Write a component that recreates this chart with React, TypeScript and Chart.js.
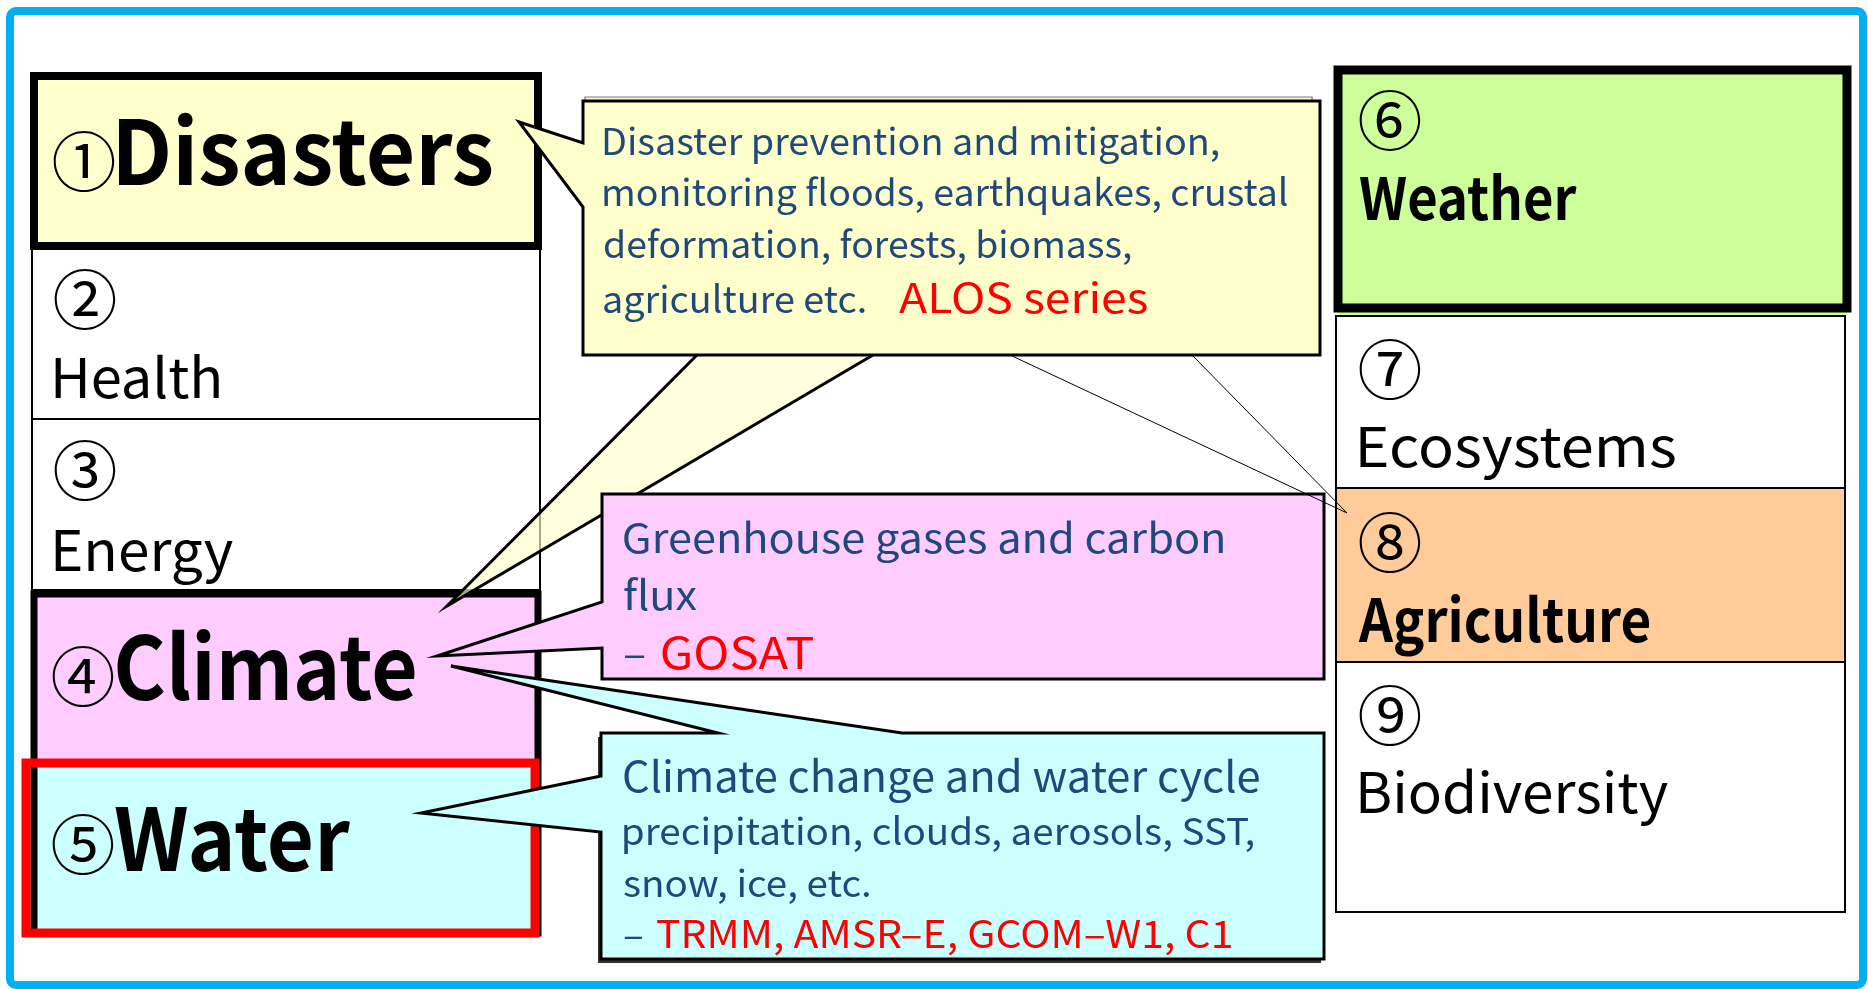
import React, { useEffect, useRef } from 'react';
import { Chart, registerables } from 'chart.js';

Chart.register(...registerables);

const W = 1868;
const H = 989;

// ---------- content ----------
const topicNumbers = ['①', '②', '③', '④', '⑤', '⑥', '⑦', '⑧', '⑨'];
const topicNames = ['Disasters', 'Health', 'Energy', 'Climate', 'Water', 'Weather', 'Ecosystems', 'Agriculture', 'Biodiversity'];
const topicBold = [true, false, false, true, true, true, false, true, false];

const disasterLines = [
  'Disaster prevention and mitigation,',
  'monitoring floods, earthquakes, crustal',
  'deformation, forests, biomass,',
  'agriculture etc.',
];
const disasterSatellites = ['ALOS series'];
const climateLines = ['Greenhouse gases and carbon', 'flux', '–'];
const climateSatellites = ['GOSAT'];
const waterLines = [
  'Climate change and water cycle',
  'precipitation, clouds, aerosols, SST,',
  'snow, ice, etc.',
  '–',
];
const waterSatellites = ['TRMM, AMSR–E, GCOM–W1, C1'];

// ---------- styles / layout ----------
const FONT = '"Noto Sans CJK JP", "Noto Sans", "DejaVu Sans", sans-serif';
const C = {
  yellow: '#FFFFCC',
  pink: '#FFCCFF',
  cyan: '#CCFFFF',
  green: '#CCFF99',
  orange: '#FFCC99',
  white: '#FFFFFF',
  note: '#1F497D',
  red: '#FF0000',
  blue: '#00B0F0',
  black: '#000000',
};

const topicCells = [
  [34, 76, 538, 246],
  [32, 248, 540, 419],
  [32, 419, 540, 590],
  [34, 594, 538, 762],
  [34, 762, 538, 933],
  [1338, 70, 1847, 316],
  [1336, 316, 1845, 488],
  [1336, 488, 1845, 662],
  [1336, 662, 1845, 912],
];
const topicFill = [C.yellow, C.white, C.white, C.pink, C.cyan, C.green, C.white, C.orange, C.white];
const numberPos = [
  [84, 161], [85, 299], [85, 470], [83, 676], [83, 844],
  [1390, 120], [1390, 369], [1390, 542], [1390, 715],
];
const NUM_D = 61;
// x, baseline, ink width, cap height
const labelPos = [
  [119, 185, 373, 66],
  [55, 398, 164, 40],
  [55, 571, 178, 41],
  [117, 700, 298, 65],
  [115, 871, 235, 64],
  [1360, 220, 217, 43],
  [1360, 467, 315, 40],
  [1358, 642, 292, 44],
  [1360, 813, 308, 41],
];

type Line = { t: string; x: number; b: number; cap: number; w: number | null; color: string };
const noteLines: Line[] = [
  { t: disasterLines[0], x: 604, b: 155, cap: 27, w: 615, color: C.note },
  { t: disasterLines[1], x: 604, b: 206, cap: 27, w: 683, color: C.note },
  { t: disasterLines[2], x: 604, b: 258, cap: 27, w: 527, color: C.note },
  { t: disasterLines[3], x: 604, b: 313, cap: 27, w: 261, color: C.note },
  { t: disasterSatellites[0], x: 899, b: 313, cap: 30, w: 248, color: C.red },
  { t: climateLines[0], x: 624, b: 553, cap: 29, w: 599, color: C.note },
  { t: climateLines[1], x: 624, b: 610, cap: 29, w: null, color: C.note },
  { t: climateLines[2], x: 624, b: 668, cap: 29, w: null, color: C.note },
  { t: climateSatellites[0], x: 662, b: 669, cap: 32, w: 151, color: C.red },
  { t: waterLines[0], x: 624, b: 792, cap: 31, w: 635, color: C.note },
  { t: waterLines[1], x: 624, b: 845, cap: 27, w: 630, color: C.note },
  { t: waterLines[2], x: 624, b: 897, cap: 27, w: null, color: C.note },
  { t: waterLines[3], x: 624, b: 948, cap: 27, w: null, color: C.note },
  { t: waterSatellites[0], x: 657, b: 948, cap: 28, w: 574, color: C.red },
];

const yellowBox = [583, 101, 1320, 355];
const yellowBack = [585, 97, 1312, 350];
const yellowTip = { y0: 143, y1: 207, tip: [519, 122] };
const yellowWedge = [[697, 355], [873, 355], [447, 606]];
const thinWedge = [[1010, 355], [1192, 355], [1347, 513]];
const pinkBox = [602, 494, 1324, 679];
const pinkTip = { y0: 602, y1: 648, tip: [437, 656] };
const cyanBox = [601, 733, 1324, 959];
const cyanTopTip = { x0: 718, x1: 902, tip: [451, 666] };
const cyanLeftTip = { y0: 776, y1: 832, tip: [421, 813] };
const waterRed = [26, 763, 535, 933];
const frame = [10, 11, 1863, 985];

const diagramPlugin = {
  id: 'diagram',
  afterDraw(chart: any) {
    const ctx: CanvasRenderingContext2D = chart.ctx;
    const xs = chart.scales.x;
    const ys = chart.scales.y;
    const X = (v: number) => xs.getPixelForValue(v);
    const Y = (v: number) => ys.getPixelForValue(v);

    const rect = (r: number[], fill: string | null, stroke: string | null, lw: number) => {
      ctx.beginPath();
      ctx.rect(X(r[0]), Y(r[1]), X(r[2]) - X(r[0]), Y(r[3]) - Y(r[1]));
      if (fill) { ctx.fillStyle = fill; ctx.fill(); }
      if (stroke) { ctx.strokeStyle = stroke; ctx.lineWidth = lw; ctx.lineJoin = 'miter'; ctx.stroke(); }
    };
    const poly = (pts: number[][], fill: string | null, stroke: string | null, lw: number, close = true) => {
      ctx.beginPath();
      pts.forEach((p, i) => (i ? ctx.lineTo(X(p[0]), Y(p[1])) : ctx.moveTo(X(p[0]), Y(p[1]))));
      if (close) ctx.closePath();
      if (fill) { ctx.fillStyle = fill; ctx.fill(); }
      if (stroke) { ctx.strokeStyle = stroke; ctx.lineWidth = lw; ctx.lineJoin = 'miter'; ctx.miterLimit = 20; ctx.stroke(); }
    };

    let lastScale = 1;
    const fitText = (text: string, x: number, b: number, cap: number, w: number | null, bold: boolean, color: string) => {
      const wt = bold ? 'bold ' : '';
      ctx.font = `${wt}100px ${FONT}`;
      const capRatio = ctx.measureText('H').actualBoundingBoxAscent / 100;
      const size = cap / capRatio;
      ctx.font = `${wt}${size}px ${FONT}`;
      const m = ctx.measureText(text);
      const ink = m.actualBoundingBoxLeft + m.actualBoundingBoxRight;
      const s = w ? w / ink : lastScale;
      lastScale = s;
      ctx.save();
      ctx.translate(X(x), Y(b));
      ctx.scale(s, 1);
      ctx.fillStyle = color;
      ctx.textAlign = 'left';
      ctx.textBaseline = 'alphabetic';
      ctx.fillText(text, m.actualBoundingBoxLeft, 0);
      ctx.restore();
    };
    const circled = (text: string, cx: number, cy: number, d: number) => {
      ctx.font = `100px ${FONT}`;
      const m0 = ctx.measureText(text);
      const h0 = m0.actualBoundingBoxAscent + m0.actualBoundingBoxDescent;
      const size = (d / h0) * 100;
      ctx.font = `${size}px ${FONT}`;
      const m = ctx.measureText(text);
      const iw = m.actualBoundingBoxLeft + m.actualBoundingBoxRight;
      const px = X(cx) - iw / 2 + m.actualBoundingBoxLeft;
      const py = Y(cy) + (m.actualBoundingBoxAscent - m.actualBoundingBoxDescent) / 2;
      ctx.fillStyle = C.black;
      ctx.textAlign = 'left';
      ctx.textBaseline = 'alphabetic';
      ctx.fillText(text, px, py);
    };

    ctx.save();
    // background
    ctx.fillStyle = '#FFFFFF';
    ctx.fillRect(0, 0, chart.width, chart.height);

    // left column
    rect(topicCells[1], topicFill[1], C.black, 2);
    rect(topicCells[2], topicFill[2], C.black, 2);
    rect(topicCells[0], topicFill[0], C.black, 8);
    rect(topicCells[3], topicFill[3], null, 0);
    rect(topicCells[4], topicFill[4], null, 0);
    rect([topicCells[3][0], topicCells[3][1], topicCells[4][2], topicCells[4][3]], null, C.black, 7);
    rect(waterRed, null, C.red, 9);

    // right column
    rect(topicCells[5], topicFill[5], null, 0);
    rect(topicCells[6], topicFill[6], C.black, 2);
    rect(topicCells[7], topicFill[7], C.black, 2);
    rect(topicCells[8], topicFill[8], C.black, 2);
    rect([topicCells[5][0], topicCells[5][1], topicCells[5][2], 308], null, C.black, 9);

    // yellow wedge to Climate (semi-transparent)
    poly(yellowWedge, 'rgba(255,255,204,0.65)', null, 0);
    poly([yellowWedge[0], yellowWedge[2], yellowWedge[1]], null, C.black, 3, false);

    // yellow callout
    rect(yellowBack, C.yellow, '#777777', 1.2);
    {
      const [l, t, r, b] = yellowBox;
      poly([[l, t], [r, t], [r, b], [l, b], [l, yellowTip.y1], yellowTip.tip, [l, yellowTip.y0]], C.yellow, C.black, 3);
    }

    // pink callout
    {
      const [l, t, r, b] = pinkBox;
      poly([[l, t], [r, t], [r, b], [l, b], [l, pinkTip.y1], pinkTip.tip, [l, pinkTip.y0]], C.pink, C.black, 3);
    }

    // cyan callout with shadow
    {
      const [l, t, r, b] = cyanBox;
      rect([l - 3, t + 4, r - 3, b + 4], '#333333', null, 0);
      poly([
        [l, t], [cyanTopTip.x0, t], cyanTopTip.tip, [cyanTopTip.x1, t], [r, t], [r, b], [l, b],
        [l, cyanLeftTip.y1], cyanLeftTip.tip, [l, cyanLeftTip.y0],
      ], C.cyan, C.black, 3);
    }

    // thin pointer to Agriculture
    poly([thinWedge[0], thinWedge[2], thinWedge[1]], null, C.black, 1, false);

    // labels
    for (let i = 0; i < topicNames.length; i++) {
      circled(topicNumbers[i], numberPos[i][0], numberPos[i][1], NUM_D);
      const [x, b, w, cap] = labelPos[i];
      fitText(topicNames[i], x, b, cap, w, topicBold[i], C.black);
    }

    // notes
    for (const ln of noteLines) fitText(ln.t, ln.x, ln.b, ln.cap, ln.w, false, ln.color);

    // outer frame
    {
      const [l, t, r, b] = frame;
      ctx.beginPath();
      (ctx as any).roundRect(X(l), Y(t), X(r) - X(l), Y(b) - Y(t), 6);
      ctx.strokeStyle = C.blue;
      ctx.lineWidth = 8;
      ctx.stroke();
    }
    ctx.restore();
  },
};

export default function App() {
  const ref = useRef<HTMLCanvasElement | null>(null);
  useEffect(() => {
    document.body.style.margin = '0';
    const canvas = ref.current;
    if (!canvas) return;
    const chart = new Chart(canvas, {
      type: 'scatter',
      data: {
        datasets: [
          {
            label: 'topics',
            data: labelPos.map((p) => ({ x: p[0], y: p[1] })),
            pointRadius: 0,
            showLine: false,
          },
        ],
      },
      options: {
        animation: false,
        responsive: false,
        devicePixelRatio: 1,
        events: [],
        layout: { padding: 0 },
        plugins: { legend: { display: false }, tooltip: { enabled: false }, title: { display: false } },
        scales: {
          x: { type: 'linear', min: 0, max: W, display: false },
          y: { type: 'linear', min: 0, max: H, reverse: true, display: false },
        },
      },
      plugins: [diagramPlugin],
    });
    return () => chart.destroy();
  }, []);
  return (
    <div style={{ width: W, height: H, position: 'relative' }}>
      <canvas ref={ref} width={W} height={H} style={{ display: 'block' }} />
    </div>
  );
}
